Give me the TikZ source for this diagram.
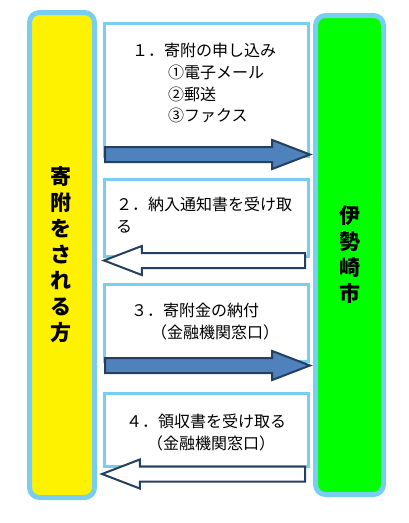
\documentclass[tikz,border=0pt]{standalone}
\usepackage{fontspec}
\newfontfamily\jp{Noto Sans CJK JP}
\usetikzlibrary{positioning,shapes.arrows}
\definecolor{skyline}{RGB}{120,206,240}
\definecolor{arrowfill}{HTML}{4F81BD}
\definecolor{arrowline}{HTML}{243F60}
\tikzstyle{party}=[rectangle,rounded corners=10pt,draw=skyline,line width=5pt,
minimum width=65pt,minimum height=485pt]
\tikzstyle{msgbox}=[rectangle,draw=skyline,line width=3pt,fill=white,
minimum width=204pt]
\tikzstyle{sendarrow}=[single arrow,draw=arrowline,fill=arrowfill,line width=2pt,
inner xsep=0pt,inner ysep=6.5pt,single arrow head extend=7pt,
single arrow tip angle=42,anchor=tail]
\tikzstyle{backarrow}=[sendarrow,fill=white,shape border rotate=180]
\tikzstyle{msgtext}=[font=\jp\fontsize{16}{21.7}\selectfont,align=left,
inner sep=0pt,anchor=north west]
\tikzstyle{sidetext}=[font=\jp\bfseries\fontsize{21}{26}\selectfont,align=center,
inner sep=0pt]

\begin{document}
\begin{tikzpicture}[x=1pt,y=-1pt]
            \useasboundingbox (0,0) rectangle (409,523);

            % SIDE PART

            \node[party,fill=yellow] (donor) at (62,255) {};
            \node[party,fill=green,minimum width=68pt,minimum height=479pt] (city) at (349.5,255) {};
            \node[sidetext] (donorname) at (61,255) {寄\\附\\を\\さ\\れ\\る\\方};
            \node[sidetext] (cityname) at (350,255) {伊\\勢\\崎\\市};

            % MESSAGE PART

            \node[msgbox,minimum height=133pt] (box1) at (206.5,89.5) {};
            \node[msgbox,minimum height=77pt,below=20pt of box1] (box2) {};
            \node[msgbox,minimum height=77pt,below=25pt of box2] (box3) {};
            \node[msgbox,minimum height=73pt,below=29pt of box3] (box4) {};

            \node[msgtext] (text1) at (132,43) {１．寄附の申し込み\\\hspace*{36pt}①電子メール\\\hspace*{36pt}②郵送\\\hspace*{36pt}③ファクス};
            \node[msgtext] (text2) at (116,197) {２．納入通知書を受け取\\る};
            \node[msgtext] (text3) at (131,303) {３．寄附金の納付\\\hspace*{20pt}（金融機関窓口）};
            \node[msgtext] (text4) at (126,414) {４．領収書を受け取る\\\hspace*{21pt}（金融機関窓口）};

            % ARROW PART

            \node[sendarrow,minimum height=205pt] (a1) at (104,154.5) {};
            \node[backarrow,minimum height=201pt] (a2) at (306,260.5) {};
            \node[sendarrow,minimum height=205pt] (a3) at (104,365.5) {};
            \node[backarrow,minimum height=203pt] (a4) at (306,474) {};

        \end{tikzpicture}
\end{document}
